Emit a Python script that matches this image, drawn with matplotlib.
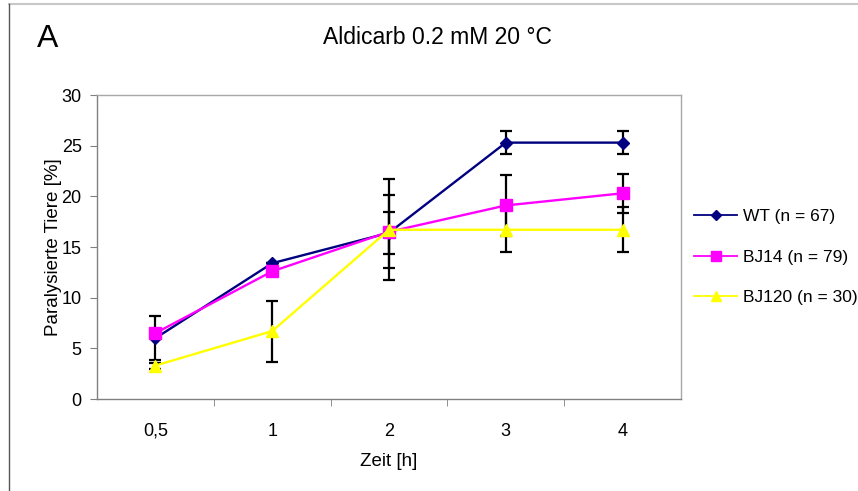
import matplotlib
matplotlib.use("Agg")
import matplotlib.pyplot as plt
from matplotlib.lines import Line2D
import numpy as np

plt.rcParams['font.family'] = ['Liberation Sans', 'DejaVu Sans']

# Zeitpunkte (Kategorien)
zeit_labels = ["0,5", "1", "2", "3", "4"]

# Paralysierte Tiere [%] je Stamm
wt_vals = [6.0, 13.4, 16.4, 25.3, 25.3]
wt_err = [2.2, 0.0, 2.1, 1.1, 1.1]

bj14_vals = [6.5, 12.6, 16.5, 19.1, 20.3]
bj14_err = [0.0, 0.0, 3.6, 3.0, 1.9]

bj120_vals = [3.3, 6.7, 16.7, 16.7, 16.7]
bj120_err = [0.3, 3.0, 5.0, 2.2, 2.2]

series = [
    ("WT (n = 67)", wt_vals, wt_err, "#000080", "D", 6.5),
    ("BJ14 (n = 79)", bj14_vals, bj14_err, "#FF00FF", "s", 8),
    ("BJ120 (n = 30)", bj120_vals, bj120_err, "#FFFF00", "^", 8.5),
]

W, H = 858, 491
fig = plt.figure(figsize=(W / 100, H / 100), dpi=100)
ax = fig.add_axes([97 / W, (H - 399) / H, (681 - 97) / W, (399 - 95) / H])

x = np.arange(len(zeit_labels))

# Fehlerbalken zuerst, damit Linien und Marker darüber liegen
for label, vals, err, color, marker, ms in series:
    ax.errorbar(x, vals, yerr=err, fmt="none", ecolor="black",
                elinewidth=1.6, capsize=4, capthick=1.6, zorder=2)

handles = []
for label, vals, err, color, marker, ms in series:
    ax.plot(x, vals, color=color, lw=1.7, marker=marker, markersize=ms,
            markerfacecolor=color, markeredgecolor=color, zorder=3)
    handles.append(Line2D([], [], color=color, lw=1.3, marker=marker,
                          markersize=ms - 1, markerfacecolor=color,
                          markeredgecolor=color, label=label))

ax.set_xlim(-0.5, len(zeit_labels) - 0.5)
ax.set_ylim(0, 30)
ax.set_yticks(range(0, 31, 5))
ax.set_xticks(x)
ax.set_xticklabels(zeit_labels)
ax.set_xticks(np.arange(0.5, len(zeit_labels) - 0.5, 1), minor=True)

axis_grey = "#808080"
frame_grey = "#a8a8a8"
ax.spines["left"].set_color(axis_grey)
ax.spines["bottom"].set_color(axis_grey)
ax.spines["top"].set_color(frame_grey)
ax.spines["right"].set_color(frame_grey)
for side in ["left", "bottom", "top", "right"]:
    ax.spines[side].set_linewidth(1.0)

ax.tick_params(axis="y", which="major", direction="out", length=5,
               color=axis_grey, labelsize=13, pad=6)
ax.tick_params(axis="x", which="major", length=0, labelsize=13, pad=17)
ax.tick_params(axis="x", which="minor", direction="out", length=5,
               color=axis_grey)

ax.set_xlabel("Zeit [h]", fontsize=13.5, labelpad=10)
ax.set_ylabel("Paralysierte Tiere [%]", fontsize=13.5, labelpad=0)

fig.text(437 / W, 1 - 38 / H, "Aldicarb 0.2 mM 20 °C", fontsize=16.5,
         ha="center", va="center")
fig.text(37 / W, 1 - 39 / H, "A", fontsize=23, ha="left", va="center")

leg = fig.legend(handles=handles, loc="center left",
                 bbox_to_anchor=(694 / W, 1 - 257 / H), frameon=False,
                 fontsize=12.5, handlelength=2.5, handletextpad=0.3,
                 labelspacing=1.45, borderaxespad=0, borderpad=0)

# Rahmen oben und links
fig.add_artist(Line2D([9 / W, 1], [1 - 4 / H, 1 - 4 / H],
                      transform=fig.transFigure, color="#c8c8c8", lw=1.5))
fig.add_artist(Line2D([9 / W, 9 / W], [0, 1 - 4 / H],
                      transform=fig.transFigure, color="#555555", lw=1.0))

fig.savefig("out.png", dpi=100)
